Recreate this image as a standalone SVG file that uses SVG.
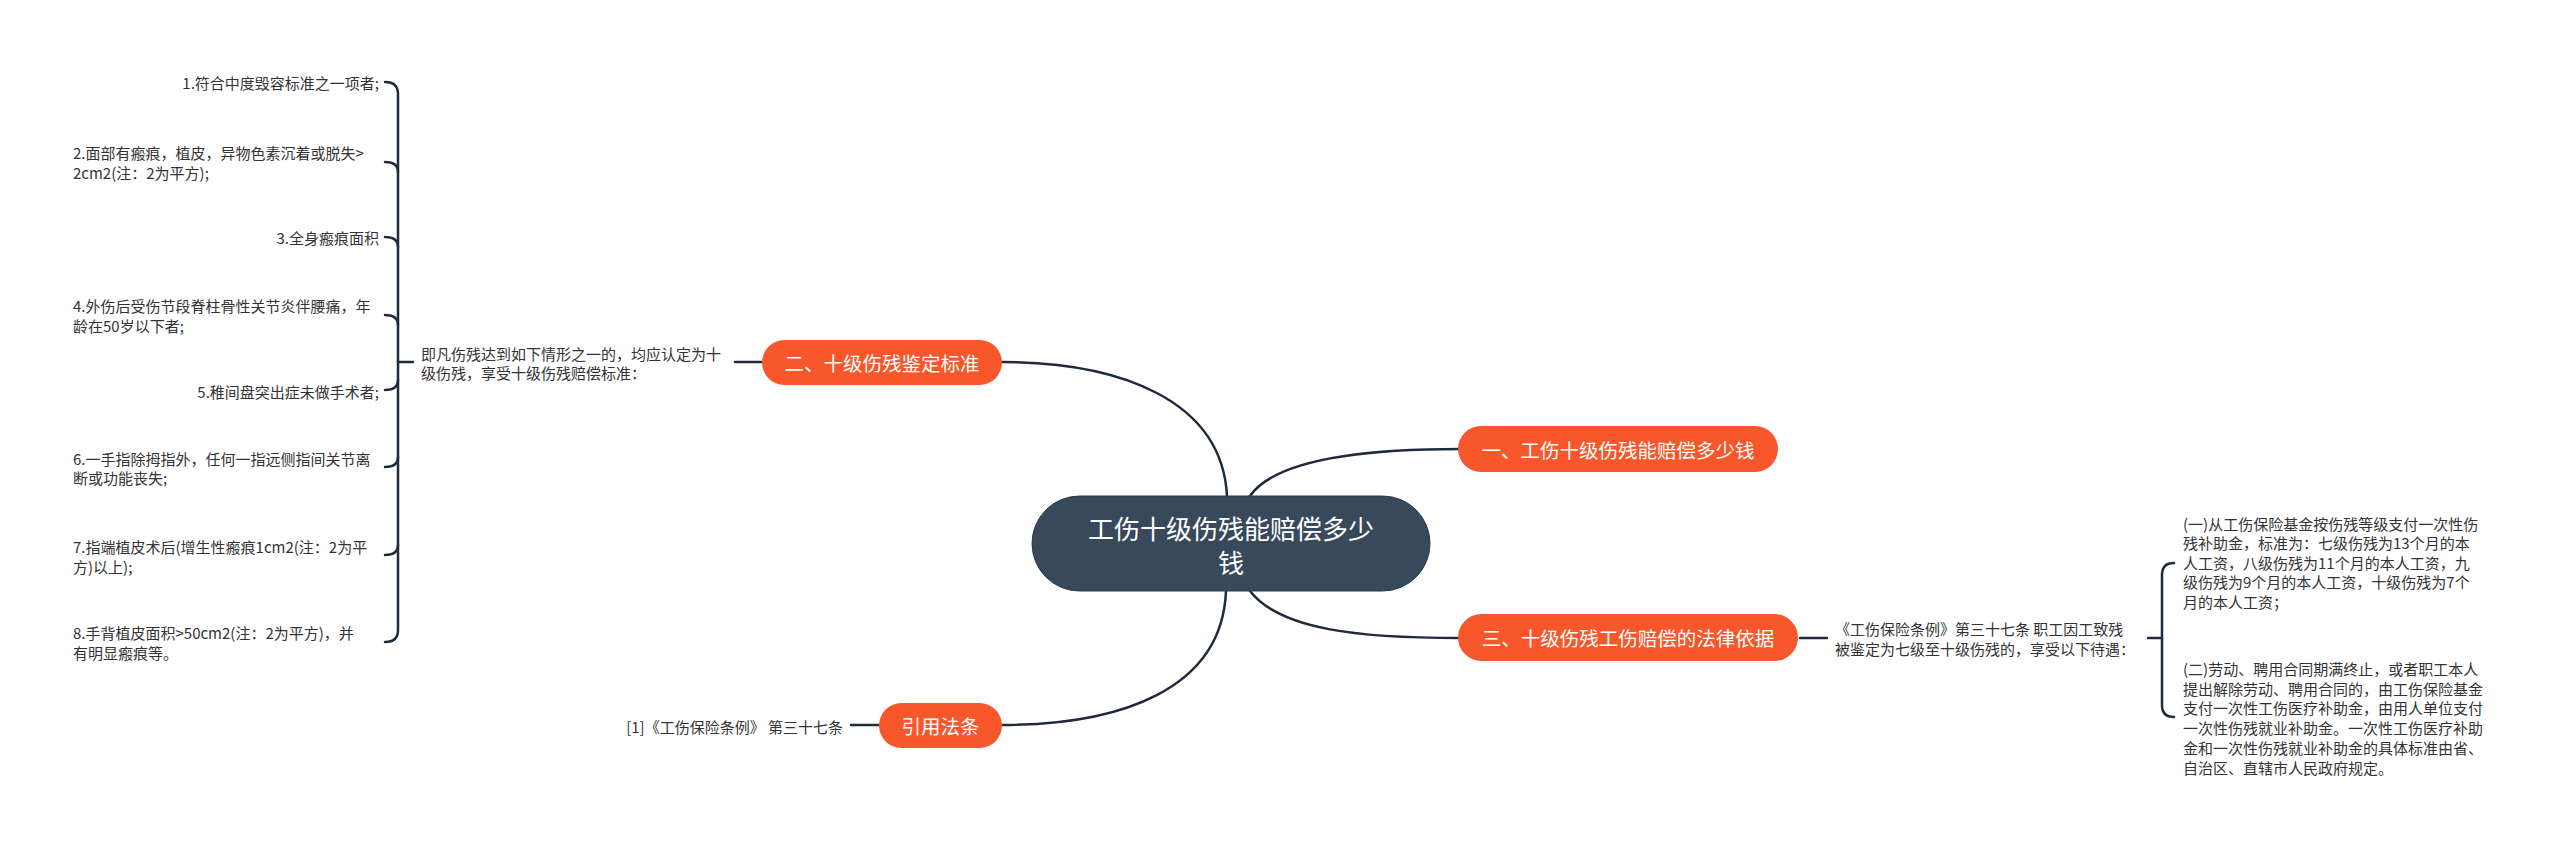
<svg xmlns="http://www.w3.org/2000/svg" width="2560" height="848" viewBox="0 0 2560 848">
<style>
text{font-family:"Noto Sans CJK SC","Noto Sans",sans-serif;dominant-baseline:central}
.leaf{font-size:15px;fill:#333}
.r{text-anchor:end}
.main{font-size:19.5px;fill:#fff;text-anchor:middle}
.mnode{fill:#f8562b}
.link{fill:none;stroke:#1e2b3a;stroke-width:2.5;stroke-linecap:round}
.br{fill:none;stroke:#1e2b3a;stroke-width:2.5;stroke-linecap:round}
</style>
<rect width="2560" height="848" fill="#fff"/>
<g id="connectors">
<path class="link" d="M1227 496 C1222 400 1120 362 1002 362"/>
<path class="link" d="M1226 591 C1222 690 1120 725 1002 725"/>
<path class="link" d="M1250 496 C1275 460 1360 449 1460 449"/>
<path class="link" d="M1250 591 C1280 630 1360 638 1460 638"/>
<path class="br" d="M735 362 H762"/>
<path class="br" d="M398 362 H413"/>
<path class="br" d="M385 82 Q398 82 398 94 V630 Q398 642 385 642"/>
<path class="br" d="M385 162 Q398 162 398 172"/>
<path class="br" d="M385 237 Q398 237 398 247"/>
<path class="br" d="M385 315 Q398 315 398 325"/>
<path class="br" d="M385 390 Q398 390 398 380"/>
<path class="br" d="M385 467 Q398 467 398 457"/>
<path class="br" d="M385 555 Q398 555 398 545"/>
<path class="br" d="M851 725 H879"/>
<path class="br" d="M1800 638 H1827"/>
<path class="br" d="M2148 638 H2162"/>
<path class="br" d="M2174 563 Q2162 563 2162 575 V705 Q2162 717 2174 717"/>
</g>
<g id="center">
<rect x="1032" y="496" width="398" height="95" rx="47.5" fill="#37495a" stroke="#2c3c4a" stroke-width="1"/>
<text x="1231" y="527" font-size="26" fill="#fff" text-anchor="middle">工伤十级伤残能赔偿多少</text>
<text x="1231" y="561" font-size="26" fill="#fff" text-anchor="middle">钱</text>
</g>
<g id="node1">
<rect class="mnode" x="1458" y="426" width="320" height="46" rx="23"/>
<text class="main" x="1618" y="449">一、工伤十级伤残能赔偿多少钱</text>
</g>
<g id="node2">
<rect class="mnode" x="762" y="340" width="240" height="45" rx="22.5"/>
<text class="main" x="882" y="362.5">二、十级伤残鉴定标准</text>
</g>
<g id="node3">
<rect class="mnode" x="1458" y="614" width="340" height="47" rx="23.5"/>
<text class="main" x="1628" y="637.5">三、十级伤残工伤赔偿的法律依据</text>
</g>
<g id="node4">
<rect class="mnode" x="879" y="703" width="123" height="45" rx="22.5"/>
<text class="main" x="940.5" y="725.5">引用法条</text>
</g>
<g id="leaf-standard">
<text class="leaf" x="421" y="353">即凡伤残达到如下情形之一的，均应认定为十</text>
<text class="leaf" x="421" y="372">级伤残，享受十级伤残赔偿标准：</text>
</g>
<g id="item1"><text class="leaf r" x="379" y="82">1.符合中度毁容标准之一项者;</text></g>
<g id="item2">
<text class="leaf" x="73" y="152">2.面部有瘢痕，植皮，异物色素沉着或脱失&gt;</text>
<text class="leaf" x="73" y="172">2cm2(注：2为平方);</text>
</g>
<g id="item3"><text class="leaf r" x="379" y="237">3.全身瘢痕面积</text></g>
<g id="item4">
<text class="leaf" x="73" y="305.5">4.外伤后受伤节段脊柱骨性关节炎伴腰痛，年</text>
<text class="leaf" x="73" y="325">龄在50岁以下者;</text>
</g>
<g id="item5"><text class="leaf r" x="379" y="391">5.稚间盘突出症未做手术者;</text></g>
<g id="item6">
<text class="leaf" x="73" y="458">6.一手指除拇指外，任何一指远侧指间关节离</text>
<text class="leaf" x="73" y="477.5">断或功能丧失;</text>
</g>
<g id="item7">
<text class="leaf" x="73" y="546">7.指端植皮术后(增生性瘢痕1cm2(注：2为平</text>
<text class="leaf" x="73" y="566">方)以上);</text>
</g>
<g id="item8">
<text class="leaf" x="73" y="632">8.手背植皮面积&gt;50cm2(注：2为平方)，并</text>
<text class="leaf" x="73" y="652">有明显瘢痕等。</text>
</g>
<g id="leaf-cite"><text class="leaf r" x="843" y="726">[1]《工伤保险条例》 第三十七条</text></g>
<g id="leaf-law">
<text class="leaf" x="1835" y="628">《工伤保险条例》第三十七条 职工因工致残</text>
<text class="leaf" x="1835" y="648">被鉴定为七级至十级伤残的，享受以下待遇：</text>
</g>
<g id="leaf-law1">
<text class="leaf" x="2183" y="523">(一)从工伤保险基金按伤残等级支付一次性伤</text>
<text class="leaf" x="2183" y="542.5">残补助金，标准为：七级伤残为13个月的本</text>
<text class="leaf" x="2183" y="562">人工资，八级伤残为11个月的本人工资，九</text>
<text class="leaf" x="2183" y="581.5">级伤残为9个月的本人工资，十级伤残为7个</text>
<text class="leaf" x="2183" y="601">月的本人工资；</text>
</g>
<g id="leaf-law2">
<text class="leaf" x="2183" y="668">(二)劳动、聘用合同期满终止，或者职工本人</text>
<text class="leaf" x="2183" y="688">提出解除劳动、聘用合同的，由工伤保险基金</text>
<text class="leaf" x="2183" y="707.5">支付一次性工伤医疗补助金，由用人单位支付</text>
<text class="leaf" x="2183" y="727">一次性伤残就业补助金。一次性工伤医疗补助</text>
<text class="leaf" x="2183" y="747">金和一次性伤残就业补助金的具体标准由省、</text>
<text class="leaf" x="2183" y="767">自治区、直辖市人民政府规定。</text>
</g>
</svg>
